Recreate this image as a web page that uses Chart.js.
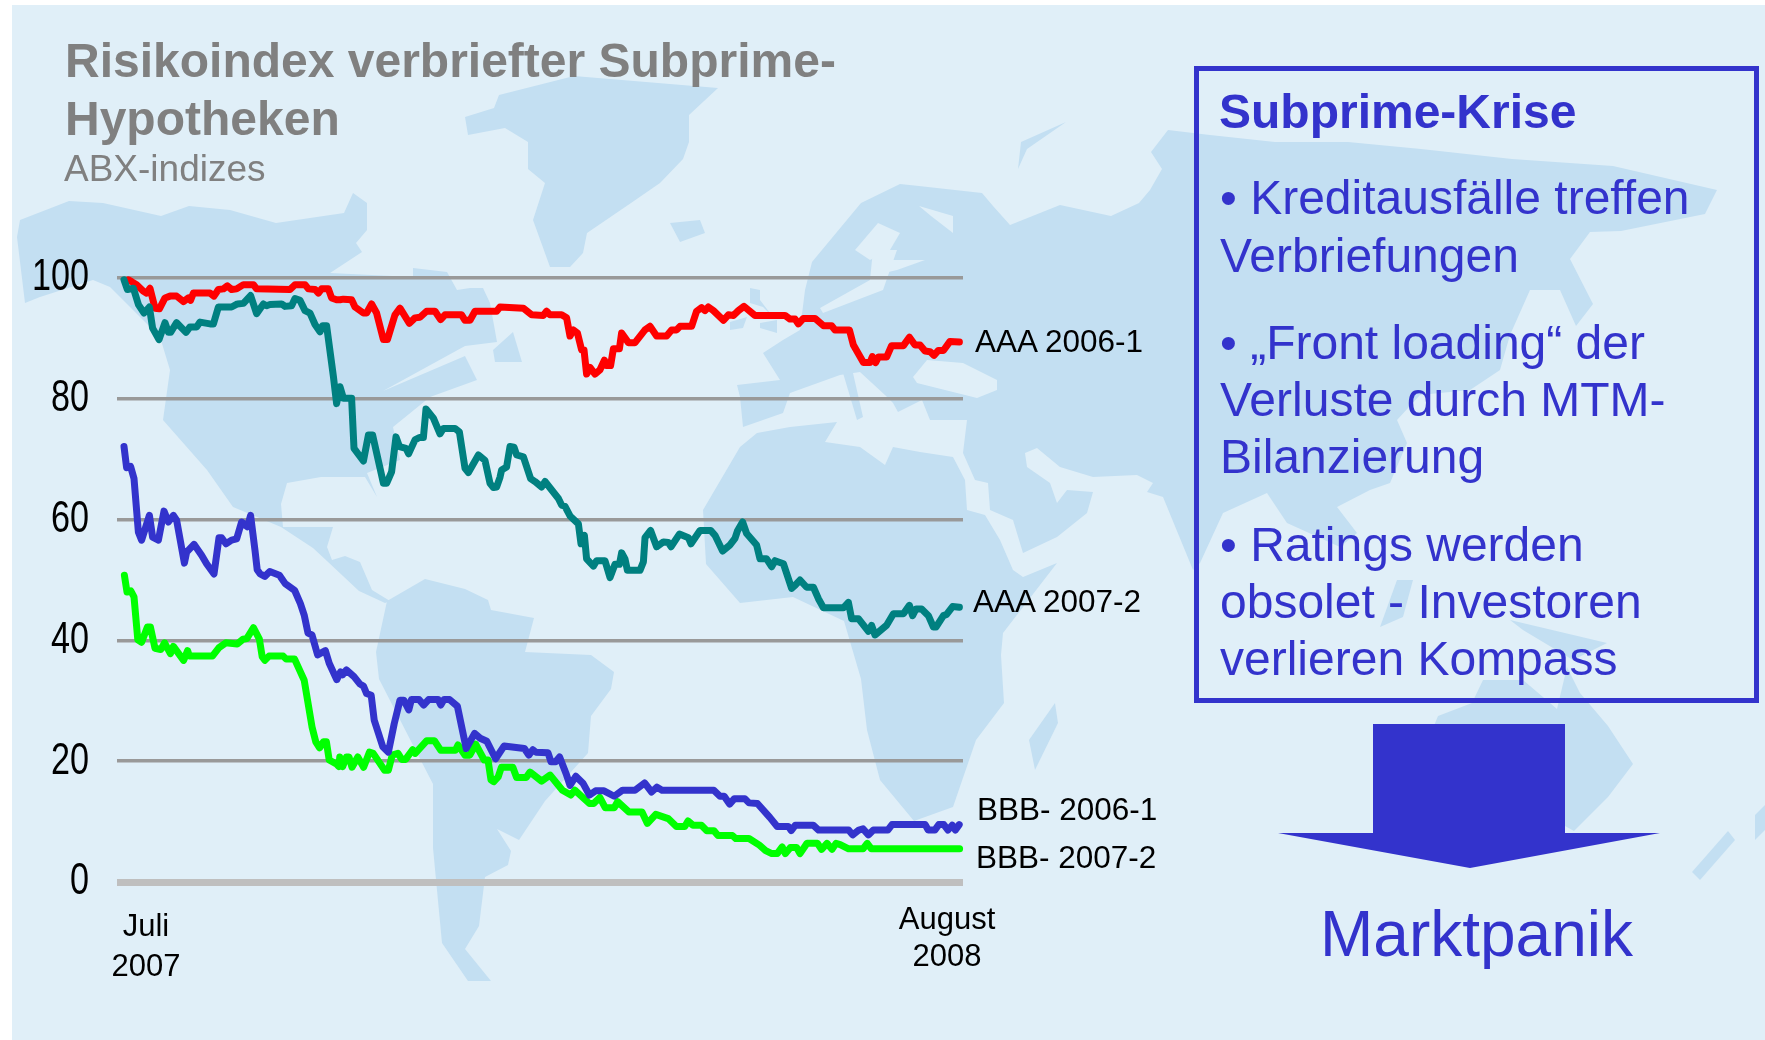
<!DOCTYPE html>
<html lang="de">
<head>
<meta charset="utf-8">
<title>Risikoindex verbriefter Subprime-Hypotheken</title>
<script src="https://cdn.jsdelivr.net/npm/chart.js@4"></script>
<style>
html,body{margin:0;padding:0;background:#fff;width:1765px;height:1040px;overflow:hidden}
#wrap{position:relative;width:1765px;height:1040px}
canvas{position:absolute;left:0;top:0}
.t{position:absolute;white-space:pre;line-height:0;font-family:"Liberation Sans",Arial,sans-serif}
</style>
</head>
<body>
<div id="wrap"><canvas id="c" width="1765" height="1040"></canvas></div>
<script>
// ---- data: days since 1 July 2007 and ABX index level ----
const aaa2006Days=[2.2,3.8,6.3,9.7,11.3,13,15.5,17.7,20.5,23,26.3,29.7,32.2,33.3,34.7,43,45,47.2,49.7,51.7,53.8,56.3,59.7,64.7,66.3,83,85.5,90.5,92.2,95.5,97.2,98.8,102.2,103.8,106.3,108,109.7,113.8,115.5,119.7,121.3,123.8,126.3,129.7,131.7,135.5,138,142.7,145.5,148,151.3,155.5,158.3,160.5,168.8,170.5,173,175.5,186.3,188,199.7,203.8,209.7,211.3,213,218.8,221.3,223,224.7,226.7,228.8,230,231.3,233,235.5,238,240.2,241.3,243.3,244.7,247.7,248.8,252.2,255.5,260.5,263,266.3,271.3,273.8,276.3,278,283.8,286.3,288.8,290.5,292.2,294.7,299.7,302.2,304.7,307.2,310,315.5,330.5,333,335.5,337.2,339.7,345.5,349.7,353.8,355.5,362.7,364.7,369.7,373,374.2,375.8,377.2,381.3,383.8,389.7,392.7,395.5,398,400.5,403,405,407.2,409.7,413,417.7];
const aaa2006Values=[99.7,99.4,98.9,97.8,97.5,98.3,95,94.9,96.7,97,97,96.1,96.7,96.3,97.5,97.5,97,98.1,98.2,98.7,98.1,98.2,98.9,98.9,98.2,98.1,98.9,98.9,98.2,98.1,97.5,98.2,98.2,96.7,96.4,96.4,96.5,96.4,95.2,94.2,94.2,95.7,94.2,89.8,89.8,93.9,95,92.5,93.4,93.5,94.5,94.5,93.1,93.9,93.9,93,93,94.5,94.5,95.2,95,93.9,93.8,94.5,93.9,93.9,93.4,90.4,91.4,90.9,88.1,88.1,84.1,85.2,84.1,84.8,86.4,85.5,85.5,88.3,88.3,90.9,89.3,89.3,91.4,92,90.4,90.4,91.4,91.4,92,92,94.5,95.1,94.6,95.2,94.6,93,93.9,93.8,94.6,95.3,93.8,93.8,93.2,93.2,92.4,93.3,93.3,92.1,92.1,91.4,91.4,88.9,86,86,87,86,86.9,86.9,88.8,88.8,90.2,88.9,88.9,87.9,87.8,87.2,88,88,89.5,89.4];

const aaa2007Days=[0,1.7,4.7,7.2,10,12.7,14.3,17.5,20.5,22.2,23.3,26.3,31,33,36.3,38,43,44.7,47.2,53.8,56.7,59.7,63.3,66.3,69.7,71.3,73,78.8,80.5,83.8,85.5,88,90.5,93,95.5,98,99.3,101.3,104.7,106.3,108,109.7,113.8,115,119.7,122.2,124.3,129.7,131.3,133.8,136,137.7,141,142.3,145.5,147.7,149.7,151,154.7,158,159.7,165.5,167.7,170.5,172.2,177.2,180.5,183,184.7,186.3,188,188.8,191.3,193,195,196.3,199.7,203.3,205.5,208.8,210.5,217.2,218.8,220.5,223,227.2,228.5,230.2,231.3,234.7,236.3,240.5,243,245.5,247.7,248.8,250.5,251.7,258,259.7,260.5,263.3,266.3,269.7,272.2,273.5,277.7,282.2,283.5,288,293.3,295.5,299.3,303,305.5,306.7,309.3,311.3,316.3,318,321.3,323.8,325.5,329.7,333.8,335.5,338,341.3,344.7,347.2,349.7,359.7,362.2,363.8,367.2,372.2,373.8,375.5,381.3,384.7,389.7,392.7,394.3,396,398.8,402.2,404.7,406,409.7,411.3,414.3,417.7];
const aaa2007Values=[99.7,98.1,98.3,95.6,94.2,95.2,91.7,89.8,92.6,91,91,92.6,91,91.9,91.9,92.7,92.4,92.4,95.2,95.2,95.7,95.8,97.1,94.1,95.7,95.4,95.6,95.7,95.3,95.4,96.6,96.3,94.6,94.2,92.3,91.1,92.1,92.1,83.7,79.2,82,80.1,80.1,71.8,69.7,74,74,66,66,67.9,73.7,72.1,71.8,70.9,73.2,73.6,73.6,78.3,76.8,74.2,75.1,75.1,74.5,68.5,67.8,70.7,69.8,66,65.3,65.4,67,68.2,68.7,72.1,72,70.7,70.4,66.8,66.3,65.4,66.3,63.5,62.4,62.2,60.6,59.3,56,57.4,53.5,52.3,53.2,53.2,50.4,52.6,52.6,54.5,53.5,51.6,51.6,53,57,58.2,55.5,56.3,56.2,55.5,57.6,57,56,58.2,58.2,57.4,54.8,55.8,56.9,58.1,59.6,57.7,55.8,53.5,53.5,52.2,53.2,52.7,48.6,49.1,50,48.8,48.8,46.9,45.4,45.4,46.3,43.6,43.6,41.5,42.5,40.9,42.5,44.4,44.4,45.8,44.1,45.2,45.2,44.1,42.2,42.2,44.1,44.3,45.6,45.5];

const bbb2006Days=[0,1.3,3.3,5,7.2,8.8,12.7,14.3,17.2,20,22.2,24.7,26.3,30.2,31.3,35,38.8,41.3,45,47.5,48.8,51,53.8,56.3,58.8,61.7,63.3,65.5,66.6,68.1,70.4,72.9,77.7,80.6,85.3,88.2,90.1,92,94,96.8,100.7,102.6,106.4,108.3,109.3,111.2,115,117.9,119.8,121.3,123.6,125.1,129.4,132.2,135.1,138,139.9,142.4,143.7,147.5,149.8,152.3,157.1,158.4,160,162.8,166.7,171.1,175.3,178.1,181.4,185.8,190,200.2,202.4,204.4,205.9,212,213.5,215.8,217.8,221.3,223,225.9,229.6,232.7,235.8,240,245.1,249.3,255.5,260.3,263.8,266.5,269,294.9,298,300.1,302.8,305.2,310.4,312.5,316.7,322.9,326.6,332.2,333.6,335.7,344.6,347.3,362.3,364.3,367.4,369.5,372.2,374.7,381.9,384,400.6,402.1,405.4,407.4,409.9,412,414.1,415.7,417.6];
const bbb2006Values=[72.1,68.6,68.8,66.8,57.9,56.6,60.7,57.1,56.6,61.4,59.6,60.7,59.9,52.8,54.6,55.9,54.1,52.7,51,57,57,56,56.6,56.8,59.6,58.8,60.7,54.9,51.7,51,50.6,51.4,50.8,49.4,48.3,46.1,44.2,41.2,40.9,37.6,38.3,36.2,33.5,34.8,34.3,35.1,34,32.8,32.4,31.2,30.9,26.8,22.4,21.5,26.2,30.1,30.1,28.5,30.2,30.2,29.3,30.2,30.2,29.3,30.2,30.2,29.1,22.1,24.6,23.8,23.3,20.4,22.5,22.1,21,21.9,21.5,21.4,19.9,19.9,20.7,17.7,16,17.5,16.3,14.4,15.1,15.1,14.2,15.2,15.2,16.4,14.9,15.7,15.2,15.2,14.2,14.2,12.9,13.8,13.8,13.1,13,10.7,9.2,9.2,8.5,9.4,9.4,8.6,8.6,7.8,8.6,8.8,7.8,8.6,8.6,9.5,9.5,8.6,8.6,9.5,9.5,8.6,9.4,8.6,9.5];

const bbb2007Days=[0.2,1.5,3.4,5,6.9,8.8,11.7,13.2,15.5,18.4,20.3,23.2,24.7,29.8,31.8,32.7,44.2,47.5,50.9,56.6,59.5,61.4,64.7,67.7,69.1,70.4,72.5,79.6,81.1,85.3,90.1,94,95.9,97.8,99.7,101.2,102.6,106.4,107.4,107.9,109.3,111.2,112.5,114,116.9,119.8,122.7,124.6,130.3,132.2,134.1,137,138.9,140.8,144.3,145.6,151.4,155.2,158.4,165.7,167,170.5,172.9,175.9,180.1,182,183.5,184.8,187.1,188.7,194.4,196.3,201.1,203,208.8,213,219.2,223.4,225.4,232.7,234.8,237.9,240.6,245.1,246.8,252.4,259,261.7,265.9,272.1,276.2,280.4,282,284.5,288.7,291.4,294.9,297,304.2,305.9,312.5,317.7,320.8,323.9,326.6,329.1,330.7,333.2,336.3,338,341.5,346.7,348.8,351.5,354,356,358.1,362.3,369.5,371.6,373.7,417.8];
const bbb2007Values=[50.8,48,48.2,47.2,40.1,39.7,42.2,42.2,38.7,38.5,39.6,37.8,39,36.7,38.3,37.4,37.4,38.8,39.6,39.4,40.2,40.3,42.1,40.2,37.3,36.7,37.4,37.4,36.9,36.9,33.4,25.7,23.2,22.2,23.2,23.2,20.2,19.5,19.1,20.7,19.1,20.7,20.7,19,20.7,19,21.5,21.3,18.5,18.5,21,21.3,20.3,20.3,21.9,21.3,23.4,23.4,21.8,21.8,22.7,21,21,22.8,20.2,20.2,16.9,16.6,17.4,19,19,17.3,17.3,18.2,16.7,17.7,15.2,14.4,15.2,13,13,14,12.3,12.3,13.3,11.6,11.6,9.7,11.2,10.5,9.2,9.2,10.1,9.4,9.4,8.5,8.5,7.7,7.7,7.2,7.2,6.1,5.2,4.7,4.7,5.8,4.7,5.7,5.7,4.7,6.4,6.4,5.4,6.4,5.4,6.4,6.2,5.5,5.5,6.4,5.5,5.5];

const seriesNames=["AAA 2006-1","AAA 2007-2","BBB- 2006-1","BBB- 2007-2"];
const yTickValues=[0,20,40,60,80,100];
const xTickDays=[11,411.5];
const xTickLabels=[["Juli","2007"],["August","2008"]];

// ---- decoration: world map backdrop (page pixels) ----
const landShapes=[
 [[20,220],[69,201],[103,203],[161,216],[189,206],[230,210],[276,223],[344,213],[353,193],[367,203],[367,230],[356,243],[362,252],[330,273],[413,277],[413,268],[447,272],[457,290],[470,288],[483,288],[490,303],[497,342],[465,346],[383,391],[465,356],[477,380],[430,397],[393,427],[400,460],[367,473],[377,497],[365,477],[321,477],[287,483],[281,504],[283,527],[333,527],[327,547],[332,560],[345,556],[360,562],[372,590],[390,601],[385,603],[359,591],[327,561],[313,548],[281,527],[233,507],[207,470],[163,420],[170,370],[160,337],[110,287],[93,280],[40,297],[25,303],[17,237]],
 [[465,117],[494,108],[499,95],[574,76],[718,88],[689,115],[689,142],[683,159],[660,183],[631,203],[587,233],[583,253],[570,267],[550,267],[533,220],[545,183],[528,169],[528,142],[505,128],[468,135]],
 [[670,223],[700,220],[705,233],[680,242]],
 [[387,601],[425,579],[465,589],[488,600],[491,610],[534,618],[525,652],[591,655],[614,672],[611,689],[591,716],[588,753],[545,801],[519,840],[497,829],[511,851],[508,865],[485,877],[479,926],[465,949],[491,981],[468,981],[442,943],[433,848],[433,784],[379,679],[376,652]],
 [[737,385],[780,380],[763,353],[783,340],[800,330],[805,290],[812,262],[861,203],[900,184],[919,186],[982,193],[993,206],[1010,225],[1060,205],[1111,216],[1139,203],[1150,190],[1162,169],[1151,152],[1168,130],[1210,135],[1275,142],[1348,142],[1421,149],[1512,159],[1613,166],[1717,190],[1705,214],[1621,231],[1590,232],[1570,259],[1593,304],[1576,326],[1560,290],[1530,290],[1510,335],[1500,370],[1470,390],[1420,395],[1397,420],[1407,443],[1390,483],[1370,490],[1337,507],[1357,533],[1340,547],[1287,523],[1267,493],[1223,513],[1200,563],[1193,570],[1163,497],[1147,492],[1153,483],[1137,475],[1093,477],[1060,467],[1037,448],[1025,453],[1027,467],[1050,483],[1057,503],[1067,490],[1093,492],[1087,513],[1057,537],[1023,553],[1013,520],[990,510],[988,483],[975,480],[963,453],[967,420],[930,420],[922,400],[898,412],[893,403],[885,395],[860,372],[840,375],[790,393],[783,413],[743,427],[740,397]],
 [[740,447],[757,433],[790,427],[837,422],[825,442],[860,447],[885,465],[893,447],[920,452],[953,457],[965,480],[967,510],[985,515],[1000,540],[1013,570],[1023,577],[1057,563],[1003,633],[1001,655],[1004,703],[976,740],[953,807],[914,821],[880,780],[867,730],[861,679],[844,621],[793,597],[740,603],[706,564],[703,510]],
 [[1055,703],[1058,723],[1035,770],[1029,740]],
 [[1438,716],[1472,703],[1483,680],[1523,680],[1557,709],[1567,667],[1580,693],[1608,726],[1633,764],[1608,797],[1574,831],[1500,790],[1440,790],[1420,760]],
 [[750,288],[760,290],[760,300],[773,317],[763,307],[750,303]],[[730,322],[747,317],[743,328],[730,330]],[[760,323],[777,320],[777,333],[760,328]],
 [[843,373],[853,373],[863,417],[857,420]],
 [[1021,142],[1066,122],[1027,149],[1018,169]],
 [[493,350],[513,332],[522,362],[495,362]],
 [[1510,620],[1607,643],[1573,660],[1523,630]],
 [[1380,627],[1397,580],[1413,580],[1403,617]],
 [[1692,872],[1728,831],[1735,840],[1700,880]],[[1755,815],[1765,805],[1765,830],[1755,840]]
];
const waterShapes=[
 [[913,377],[927,360],[963,363],[997,380],[997,390],[977,398],[917,383]],
 [[880,260],[925,260],[897,270],[880,274]],
 [[919,206],[953,216],[953,233],[931,216]],
 [[823,313],[883,290],[897,250],[873,250],[870,280],[820,308]],
 [[855,250],[878,223],[900,233],[890,250],[870,260]]
];
const backdrop={id:'backdrop',beforeDraw(chart){
  const g=chart.ctx;g.save();
  g.fillStyle='#fff';g.fillRect(0,0,1765,1040);
  g.fillStyle='#e0eff8';g.fillRect(12,5,1753,1035);
  const paint=(list,col)=>{g.fillStyle=col;list.forEach(s=>{g.beginPath();s.forEach((p,i)=>i?g.lineTo(p[0],p[1]):g.moveTo(p[0],p[1]));g.closePath();g.fill();});};
  paint(landShapes,'#c3dff2');paint(waterShapes,'#e0eff8');
  g.strokeStyle='#3333cc';g.lineWidth=5;g.strokeRect(1196.5,68.5,560,632);
  g.fillStyle='#3333cc';g.beginPath();
  [[1373,724],[1565,724],[1565,833],[1660,833],[1470,868],[1278,833],[1373,833]].forEach((p,i)=>i?g.lineTo(p[0],p[1]):g.moveTo(p[0],p[1]));
  g.closePath();g.fill();
  // August tick label sits a little higher than the Juli label
  const sx=chart.scales.x,it=sx.getLabelItems();
  if(it[1]&&!it[1]._moved){it[1].options.translation[1]-=5;it[1]._moved=true;}
  // the y tick labels are horizontally condensed around their right edge
  const sy=chart.scales.y;
  if(!sy._narrowed){sy._narrowed=true;const orig=sy.drawLabels.bind(sy);
    sy.drawLabels=function(a){const c=this.ctx;c.save();c.translate(89,0);c.scale(0.76,1);c.translate(-89,0);orig(a);c.restore();};}
  g.restore();
}};

const toPoints=(xs,ys)=>xs.map((x,i)=>({x,y:ys[i]}));
const line=(label,xs,ys,color,order)=>({label,data:toPoints(xs,ys),borderColor:color,backgroundColor:color,borderWidth:7,pointRadius:0,tension:0,borderCapStyle:'round',borderJoinStyle:'round',order,clip:false});

new Chart(document.getElementById('c'),{
  type:'line',
  data:{datasets:[
    line(seriesNames[0],aaa2006Days,aaa2006Values,'#ff0000',2),
    line(seriesNames[1],aaa2007Days,aaa2007Values,'#008080',1),
    line(seriesNames[2],bbb2006Days,bbb2006Values,'#3333cc',3),
    line(seriesNames[3],bbb2007Days,bbb2007Values,'#00ff00',4)
  ]},
  plugins:[backdrop],
  options:{
    responsive:false,animation:false,devicePixelRatio:1,
    layout:{padding:{left:0,right:802,top:278,bottom:0}},
    plugins:{legend:{display:false},title:{display:false},tooltip:{enabled:false}},
    scales:{
      x:{type:'linear',min:-3.5,max:419.5,
        border:{display:false},grid:{display:false},
        afterBuildTicks(s){s.ticks=xTickDays.map(v=>({value:v}));},
        afterFit(s){s.height=158;},
        ticks:{autoSkip:false,maxRotation:0,minRotation:0,padding:17,color:'#000',
          font:c=>({family:'"Liberation Sans",Arial,sans-serif',size:31,lineHeight:c.index===1?37/31:40/31}),
          callback:(v,i)=>xTickLabels[i]}
      },
      y:{type:'linear',min:0,max:100,
        border:{display:false},
        afterBuildTicks(s){s.ticks=yTickValues.map(v=>({value:v}));},
        afterFit(s){s.width=117;},
        grid:{drawTicks:false,color:c=>c.tick&&c.tick.value===0?'#bfbfbf':'#999999',lineWidth:c=>c.tick&&c.tick.value===0?7:3.5},
        ticks:{padding:28,color:'#000',font:{family:'"Liberation Sans",Arial,sans-serif',size:45}}
      }
    }
  }
});

// ---- text overlays ----
const wrap=document.getElementById('wrap');
const put=(txt,x,base,size,color,bold)=>{const d=document.createElement('div');d.className='t';d.textContent=txt;
  d.style.cssText=`left:${x}px;top:${base-0.3465*size}px;font-size:${size}px;color:${color};font-weight:${bold?700:400}`;wrap.appendChild(d);return d;};
const grey='#808080',blue='#3333cc';
put('Risikoindex verbriefter Subprime-',65,78,48,grey,true);
put('Hypotheken',65,136,48,grey,true);
put('ABX-indizes',64,182,37,grey,false);
put(seriesNames[0],975,352,31.5,'#000');
put(seriesNames[1],973,612,31.5,'#000');
put(seriesNames[2],977,820,31.5,'#000');
put(seriesNames[3],976,868,31.5,'#000');
put('Subprime-Krise',1219,129,48,blue,true);
[['• Kreditausfälle treffen',215],['Verbriefungen',273],['• „Front loading“ der',360],['Verluste durch MTM-',417],['Bilanzierung',474],['• Ratings werden',562],['obsolet - Investoren',619],['verlieren Kompass',676]]
 .forEach(([s,b])=>put(s,1220,b,48,blue));
put('Marktpanik',1320,956,64,blue);
</script>
</body>
</html>
